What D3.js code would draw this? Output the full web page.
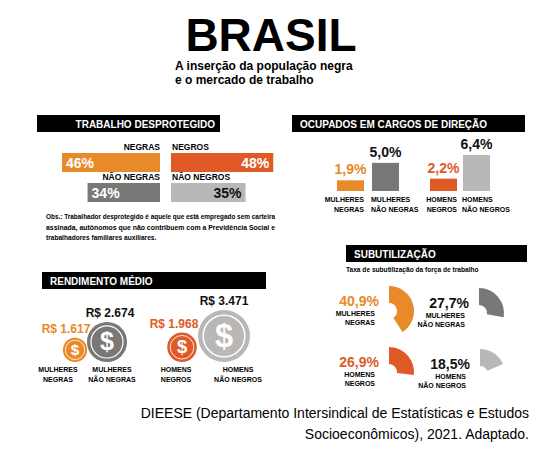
<!DOCTYPE html>
<html><head><meta charset="utf-8">
<script src="https://cdn.jsdelivr.net/npm/d3@7"></script>
<style>body{margin:0;background:#fff}text{font-family:"Liberation Sans",Arial,sans-serif}</style>
</head><body><div id="chart"></div>
<script>
// trabalho desprotegido
let despLabels = ["NEGRAS", "NEGROS", "NÃO NEGRAS", "NÃO NEGROS"]
let despValues = [46, 48, 34, 35]
// cargos de direcao
let cargoLabels = [["MULHERES","NEGRAS"], ["MULHERES","NÃO NEGRAS"], ["HOMENS","NEGROS"], ["HOMENS","NÃO NEGROS"]]
let cargoValues = [1.9, 5.0, 2.2, 6.4]
// rendimento
let rendValues = [1617, 2674, 1968, 3471]
// subutilizacao
let subValues = [40.9, 27.7, 26.9, 18.5]

const colors = ["#e8892a", "#7a7876", "#e05a28", "#b9b8b7"]
const fmt = v => d3.format(".1f")(v).replace(".", ",") + "%"
const fmtR = v => "R$ " + d3.format(",")(v).replace(",", ".")

let width = 555, height = 451
let svg = d3.select('#chart').append('svg').attr('width', width).attr('height', height)

svg.append('text').attr('x', 271).attr('y', 51).attr('text-anchor', 'middle')
    .style('font-size', '46px').style('font-weight', 'bold').text('BRASIL')
svg.append('text').attr('x', 175).attr('y', 70).style('font-size', '12px').style('font-weight', 'bold').text('A inserção da população negra')
svg.append('text').attr('x', 175).attr('y', 84).style('font-size', '12px').style('font-weight', 'bold').text('e o mercado de trabalho')

function header(x, y, w, txt, anchor){
    svg.append('rect').attr('x', x).attr('y', y).attr('width', w).attr('height', 17).attr('fill', '#000')
    svg.append('text').attr('x', anchor == 'end' ? x + w - 5 : x + 8).attr('y', y + 12.5)
        .attr('text-anchor', anchor || 'start').attr('fill', '#fff')
        .style('font-size', '10px').style('font-weight', 'bold').text(txt)
}
const lab = (sel, size) => sel.style('font-size', size + 'px').style('font-weight', 'bold')

// --- trabalho desprotegido
header(37, 115, 183, 'TRABALHO DESPROTEGIDO', 'end')
let despX = d3.scaleLinear().domain([0, 100]).range([0, 213])
despValues.forEach((v, i) => {
    let right = i % 2 == 1
    let y = i < 2 ? 153 : 183
    let w = despX(v)
    let x = right ? 171 : 160 - w
    let fill = [colors[0], colors[2], colors[1], colors[3]][i]
    svg.append('rect').attr('x', x).attr('y', y).attr('width', w).attr('height', 19).attr('fill', fill)
    lab(svg.append('text').attr('x', right ? x + w - 4 : x + 4).attr('y', y + 15)
        .attr('text-anchor', right ? 'end' : 'start').attr('fill', i == 3 ? '#111' : '#fff'), 14).text(v + '%')
    lab(svg.append('text').attr('x', right ? 172 : 160).attr('y', y - 3)
        .attr('text-anchor', right ? 'start' : 'end'), 8.5).text(despLabels[i])
})
let obs = ["Obs.: Trabalhador desprotegido é aquele que está empregado sem carteira",
    "assinada, autônomos que não contribuem com a Previdência Social e",
    "trabalhadores familiares auxiliares."]
obs.forEach((t, i) => {
    let el = lab(svg.append('text').attr('x', 46).attr('y', 219 + i * 10.5), 6.6).text(t)
    if (i < 2) el.attr('textLength', 229).attr('lengthAdjust', 'spacingAndGlyphs')
})

// --- cargos de direcao
header(292, 115, 233, 'OCUPADOS EM CARGOS DE DIREÇÃO')
let cargoPos = [337, 372, 430, 463]
let cargoY = d3.scaleLinear().domain([0, 6.4]).range([191, 155])
cargoValues.forEach((v, i) => {
    let x = cargoPos[i], bw = 27
    svg.append('rect').attr('x', x).attr('y', cargoY(v)).attr('width', bw).attr('height', 191 - cargoY(v)).attr('fill', colors[i])
    lab(svg.append('text').attr('x', x + bw / 2).attr('y', cargoY(v) - 6).attr('text-anchor', 'middle')
        .attr('fill', i % 2 == 0 ? colors[i] : '#111'), 14).text(fmt(v))
    let anchor = i % 2 == 0 ? 'end' : 'start'
    cargoLabels[i].forEach((t, k) => {
        lab(svg.append('text').attr('x', i % 2 == 0 ? x + bw : x - 1).attr('y', 202 + k * 9.5)
            .attr('text-anchor', anchor), 7).text(t)
    })
})

// --- rendimento medio
header(42, 272, 224, 'RENDIMENTO MÉDIO')
let rendR = d3.scaleLinear().domain([0, 3471]).range([0, 26])
let rendCx = [75, 107, 182, 224]
rendValues.forEach((v, i) => {
    let r = rendR(v), cy = 362 - r, cx = rendCx[i]
    svg.append('circle').attr('cx', cx).attr('cy', cy).attr('r', r).attr('fill', colors[i])
    svg.append('circle').attr('cx', cx).attr('cy', cy).attr('r', r * 0.8).attr('fill', 'none')
        .attr('stroke', '#fff').attr('stroke-width', Math.max(0.8, r * 0.06))
    svg.append('text').attr('x', cx).attr('y', cy + r * 0.42).attr('text-anchor', 'middle').attr('fill', '#fff')
        .style('font-size', (r * 1.25) + 'px').style('font-weight', 'bold').text('$')
    let lx = [66, 110, 174, 224][i]
    lab(svg.append('text').attr('x', lx).attr('y', cy - r - 5).attr('text-anchor', 'middle')
        .attr('fill', i % 2 == 0 ? colors[i] : '#111'), 12).text(fmtR(v))
    let labX = [58, 112, 176, 238][i]
    cargoLabels[i].forEach((t, k) => {
        lab(svg.append('text').attr('x', labX).attr('y', 372 + k * 9.5).attr('text-anchor', 'middle'), 7).text(t)
    })
})

// --- subutilizacao
header(346, 245, 181, 'SUBUTILIZAÇÃO')
lab(svg.append('text').attr('x', 346).attr('y', 272), 6.6).text('Taxa de subutilização da força de trabalho')
let angle = d3.scaleLinear().domain([0, 100]).range([0, 2 * Math.PI])
let arc = d3.arc().innerRadius(8).outerRadius(25).startAngle(0)
let subC = [[389, 311], [479, 313], [389, 372], [480, 374]]
subValues.forEach((v, i) => {
    let [cx, cy] = subC[i]
    svg.append('path').attr('transform', `translate(${cx},${cy})`).attr('d', arc({endAngle: angle(v)})).attr('fill', colors[i])
    let tx = cx - 10
    lab(svg.append('text').attr('x', tx).attr('y', cy - 5).attr('text-anchor', 'end')
        .attr('fill', i % 2 == 0 ? colors[i] : '#111'), 14).text(fmt(v))
    cargoLabels[i].forEach((t, k) => {
        lab(svg.append('text').attr('x', tx - 4).attr('y', cy + 5 + k * 9).attr('text-anchor', 'end'), 7).text(t)
    })
})

svg.append('text').attr('x', 529).attr('y', 418).attr('text-anchor', 'end').style('font-size', '14px')
    .text('DIEESE (Departamento Intersindical de Estatísticas e Estudos')
svg.append('text').attr('x', 529).attr('y', 439).attr('text-anchor', 'end').style('font-size', '14px')
    .text('Socioeconômicos), 2021. Adaptado.')
</script></body></html>
